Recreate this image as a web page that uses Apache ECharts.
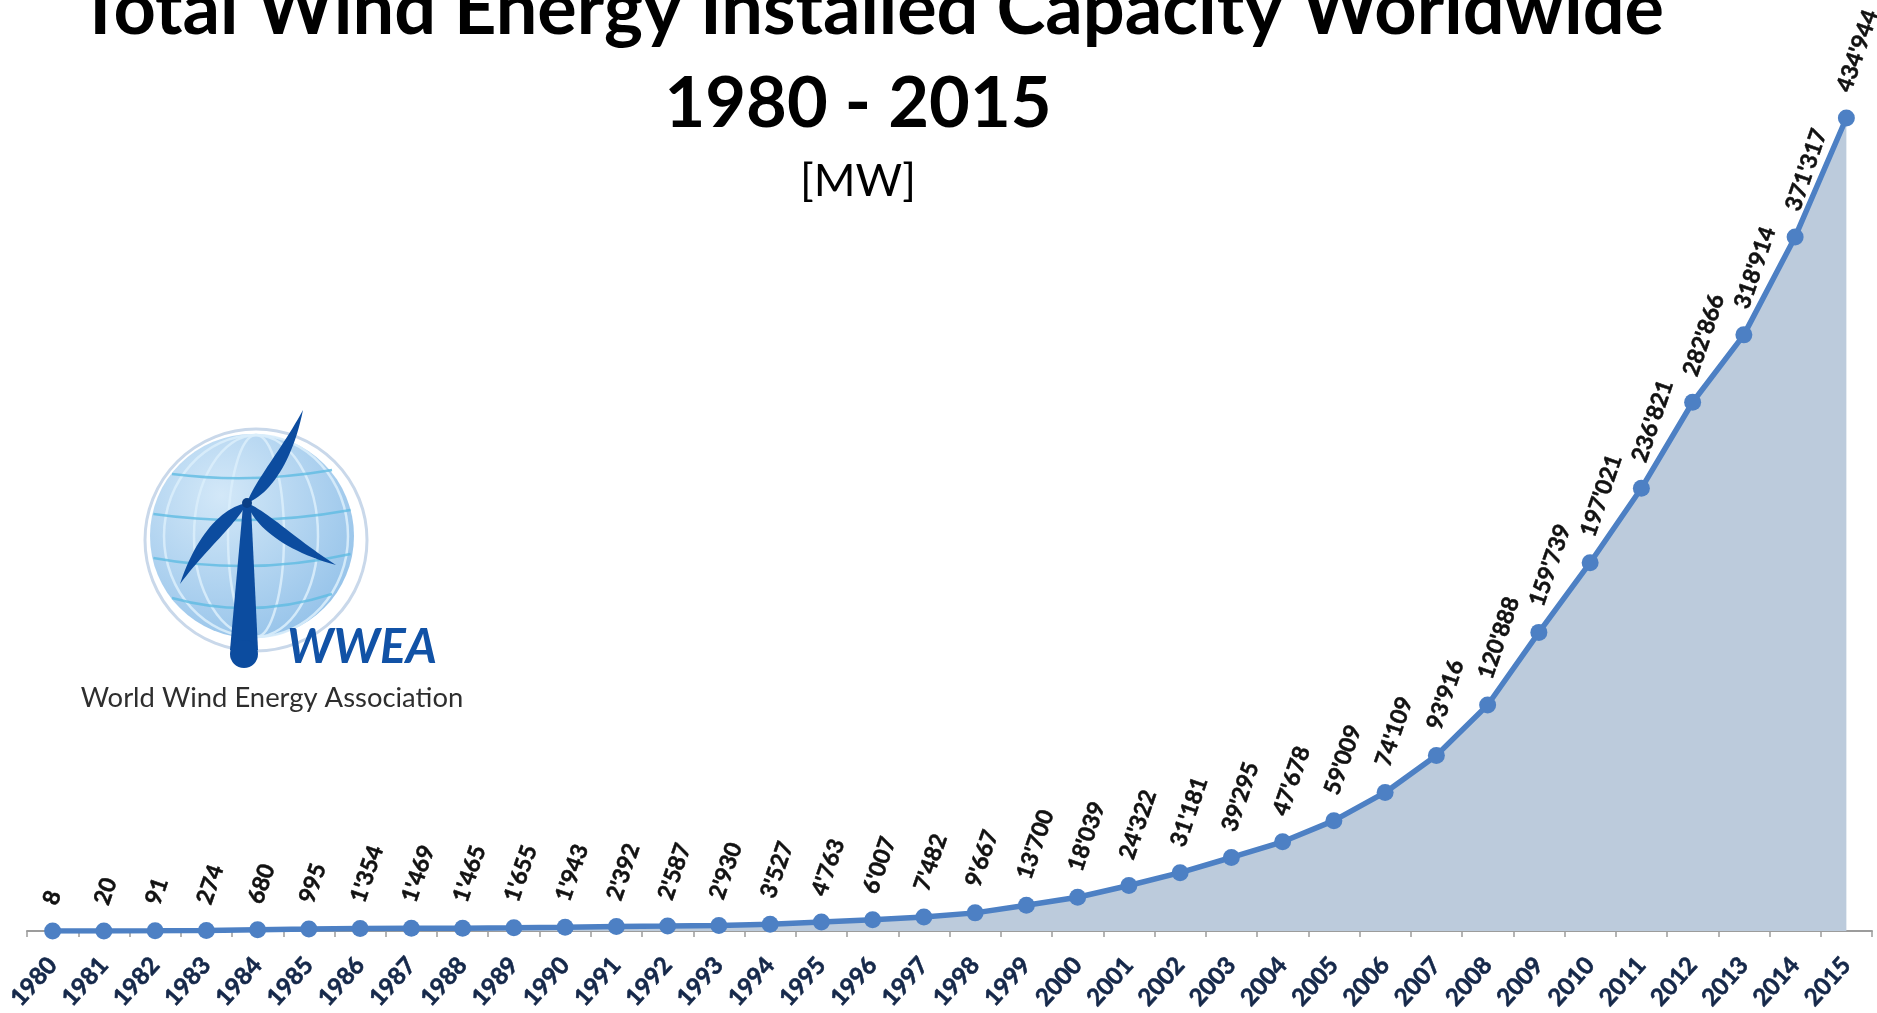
<!DOCTYPE html>
<html>
<head>
<meta charset="utf-8">
<title>Total Wind Energy Installed Capacity Worldwide 1980 - 2015</title>
<script src="https://cdn.jsdelivr.net/npm/echarts@6/dist/echarts.min.js"></script>
<style>
  html, body { margin: 0; padding: 0; background: #ffffff; }
  #chart { width: 1877px; height: 1013px; }
</style>
</head>
<body>
<div id="chart"></div>
<script>
// Installed wind capacity worldwide, cumulative, in MW
const years = ['1980','1981','1982','1983','1984','1985','1986','1987','1988','1989',
  '1990','1991','1992','1993','1994','1995','1996','1997','1998','1999',
  '2000','2001','2002','2003','2004','2005','2006','2007','2008','2009',
  '2010','2011','2012','2013','2014','2015'];
const capacityMW = [8, 20, 91, 274, 680, 995, 1354, 1469, 1465, 1655,
  1943, 2392, 2587, 2930, 3527, 4763, 6007, 7482, 9667, 13700,
  18039, 24322, 31181, 39295, 47678, 59009, 74109, 93916, 120888, 159739,
  197021, 236821, 282866, 318914, 371317, 434944];

const titleLines = ['Total Wind Energy Installed Capacity Worldwide', '1980 - 2015', '[MW]'];
const logoName = 'WWEA';
const logoCaption = 'World Wind Energy Association';

// thousands separated with an apostrophe: 434944 -> 434'944
function swissFormat(v) {
  return String(v).replace(/\B(?=(\d{3})+(?!\d))/g, "'");
}

// font size that makes a string span a given width
const measureCtx = document.createElement('canvas').getContext('2d');
function fitSize(text, style, weight, family, width) {
  measureCtx.font = style + ' ' + weight + ' 100px ' + family;
  return 100 * width / measureCtx.measureText(text).width;
}

function textEl(text, x, y, style, weight, size, family, color, align) {
  return {
    type: 'text', x: x, y: y, z: 10,
    style: {
      text: text,
      font: style + ' ' + weight + ' ' + size.toFixed(1) + 'px ' + family,
      fill: color,
      align: align || 'center', textAlign: align || 'center',
      verticalAlign: 'middle', textVerticalAlign: 'middle'
    }
  };
}

// sample a cubic bezier into points
function cubicPts(p0, p1, p2, p3, n) {
  const out = [];
  for (let i = 0; i <= n; i++) {
    const t = i / n, m = 1 - t;
    out.push([
      m * m * m * p0[0] + 3 * m * m * t * p1[0] + 3 * m * t * t * p2[0] + t * t * t * p3[0],
      m * m * m * p0[1] + 3 * m * m * t * p1[1] + 3 * m * t * t * p2[1] + t * t * t * p3[1]
    ]);
  }
  return out;
}

// a curved turbine blade from hub (hx,hy) to tip (tx,ty), as a polygon
function bladePoints(hx, hy, tx, ty, w, side) {
  const dx = tx - hx, dy = ty - hy;
  const L = Math.sqrt(dx * dx + dy * dy);
  const ux = dx / L, uy = dy / L;
  const nx = -uy * side, ny = ux * side;
  const p = (a, b) => [hx + ux * L * a + nx * b, hy + uy * L * a + ny * b];
  const sideA = cubicPts(p(0, 0), p(0.18, w * 1.1), p(0.55, w * 1.25), p(1, 0), 24);
  const sideB = cubicPts(p(1, 0), p(0.6, w * 0.15), p(0.2, -w * 0.35), p(0, 0), 24);
  return sideA.concat(sideB.slice(1));
}

function buildLogo() {
  const els = [];
  const gx = 252, gy = 536, R = 102;
  const hub = [247, 503];
  const navy = '#0c4c9f';
  // outer ring
  els.push({ type: 'circle', shape: { cx: 256, cy: 540, r: 111 },
    style: { fill: 'none', stroke: '#c9d8ea', lineWidth: 3 } });
  // globe
  els.push({ type: 'circle', shape: { cx: gx, cy: gy, r: R },
    style: { fill: { type: 'radial', x: 0.35, y: 0.3, r: 0.85,
      colorStops: [{ offset: 0, color: '#d3e8f8' }, { offset: 1, color: '#8fbfe8' }] } } });
  // meridians
  [28, 62, 92].forEach(rx => {
    els.push({ type: 'ellipse', shape: { cx: gx + 4, cy: gy, rx: rx, ry: R - 1 },
      style: { fill: 'none', stroke: '#d9edfb', lineWidth: 2.5, opacity: 0.9 } });
  });
  // parallels
  [-62, -22, 22, 62].forEach((d, i) => {
    const hc = Math.sqrt(R * R - d * d) - 1;
    const bow = 10 + i * 4;
    els.push({ type: 'bezierCurve', shape: {
      x1: gx - hc, y1: gy + d, x2: gx + hc, y2: gy + d - 4, cpx1: gx, cpy1: gy + d + bow },
      style: { fill: 'none', stroke: '#5fbbe2', lineWidth: 2.5, opacity: 0.8 } });
  });
  // tower
  els.push({ type: 'polygon', shape: { points: [[243, 506], [251, 506], [258, 650], [230, 650]] },
    style: { fill: navy } });
  els.push({ type: 'circle', shape: { cx: 244, cy: 654, r: 14 }, style: { fill: navy } });
  // blades
  els.push({ type: 'polygon', shape: { points: bladePoints(hub[0], hub[1], 303, 410, 14, 1) }, style: { fill: navy } });
  els.push({ type: 'polygon', shape: { points: bladePoints(hub[0], hub[1], 180, 584, 15, 1) }, style: { fill: navy } });
  els.push({ type: 'polygon', shape: { points: bladePoints(hub[0], hub[1], 336, 565, 14, 1) }, style: { fill: navy } });
  els.push({ type: 'circle', shape: { cx: hub[0], cy: hub[1], r: 5 }, style: { fill: '#0a3f86' } });
  // lettering
  const nameSize = fitSize(logoName, 'italic', 'bold', 'Lato', 150);
  els.push(textEl(logoName, 362, 648, 'italic', 'bold', nameSize, 'Lato', '#1152a6'));
  const capSize = fitSize(logoCaption, 'normal', 'normal', 'Lato', 383);
  els.push(textEl(logoCaption, 272, 698, 'normal', 'normal', capSize, 'Lato', '#2e2e2e'));
  return els;
}

function buildTitles() {
  const s1 = fitSize(titleLines[0], 'normal', 'bold', 'Lato', 1587);
  const s2 = fitSize(titleLines[1], 'normal', 'bold', 'Lato', 387);
  const s3 = fitSize(titleLines[2], 'normal', 'normal', 'Lato', 116);
  return [
    textEl(titleLines[0], 871, 10, 'normal', 'bold', s1, 'Lato', '#000000'),
    textEl(titleLines[1], 858, 104, 'normal', 'bold', s2, 'Lato', '#000000'),
    textEl(titleLines[2], 858, 181, 'normal', 'normal', s3, 'Lato', '#000000')
  ];
}

const chart = echarts.init(document.getElementById('chart'), null, { renderer: 'canvas' });

const lineBlue = '#4d80c4';

chart.setOption({
  animation: false,
  backgroundColor: '#ffffff',
  grid: { left: 27, right: 5, top: 118, bottom: 80, containLabel: false },
  xAxis: {
    type: 'category',
    data: years,
    boundaryGap: true,
    axisLine: { lineStyle: { color: '#9c9c9c', width: 2 } },
    axisTick: { show: true, length: 6, lineStyle: { color: '#9c9c9c', width: 1.5 } },
    axisLabel: {
      interval: 0, rotate: 48, margin: 30,
      fontFamily: 'Lato', fontWeight: 'bold', fontSize: 24, color: '#15284a',
      textBorderColor: '#15284a', textBorderWidth: 0.6
    },
    splitLine: { show: false }
  },
  yAxis: { type: 'value', min: 0, max: 'dataMax', show: false },
  series: [{
    type: 'line',
    data: capacityMW,
    symbol: 'circle',
    symbolSize: 17,
    lineStyle: { color: lineBlue, width: 5.5 },
    itemStyle: { color: lineBlue },
    areaStyle: { color: '#bccbdc', opacity: 1 },
    label: {
      show: true,
      position: 'top',
      distance: 26,
      rotate: 71,
      align: 'left',
      verticalAlign: 'middle',
      offset: [-8, 0],
      formatter: p => swissFormat(p.value),
      fontFamily: 'Lato', fontWeight: 'bold', fontSize: 23, color: '#111111',
      textBorderColor: '#111111', textBorderWidth: 0.5
    }
  }],
  graphic: buildLogo().concat(buildTitles())
});
</script>
</body>
</html>
